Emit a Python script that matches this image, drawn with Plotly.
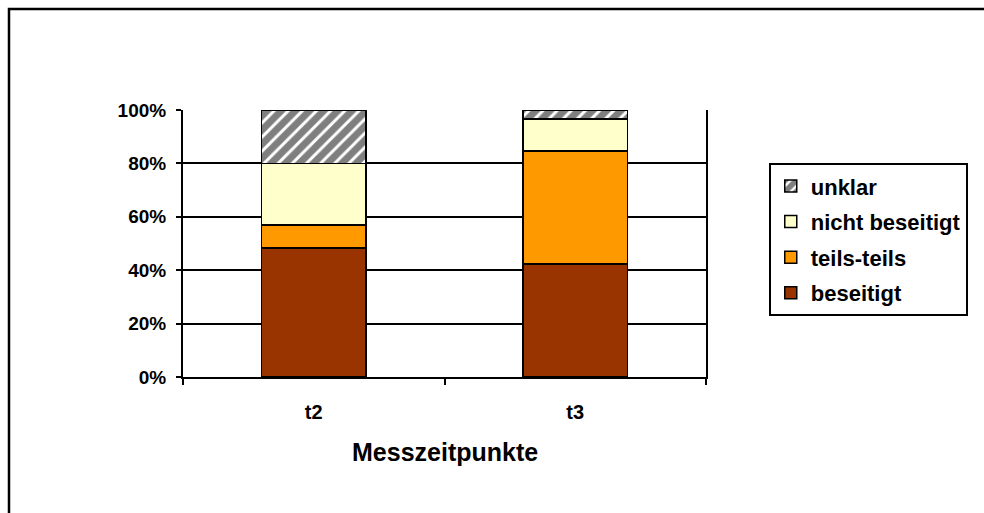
import plotly.graph_objects as go

categories = ["t2", "t3"]
series_names = ["beseitigt", "teils-teils", "nicht beseitigt", "unklar"]
beseitigt = [48.4, 42.3]
teils_teils = [8.5, 42.3]
nicht_beseitigt = [23.0, 12.0]
unklar = [20.1, 3.4]
y_ticks = [0, 20, 40, 60, 80, 100]
y_tick_labels = ["0%", "20%", "40%", "60%", "80%", "100%"]

FONT = "Liberation Sans, Arial, sans-serif"

fig = go.Figure()
values = [beseitigt, teils_teils, nicht_beseitigt, unklar]
colors = ["#993300", "#FF9900", "#FFFFCC", "#FFFFFF"]
n = len(series_names)
for i, (name, vals, col) in enumerate(zip(series_names, values, colors)):
    marker = dict(color=col, line=dict(color="black", width=1.5))
    if name == "unklar":
        marker["pattern"] = dict(shape="/", fgcolor="black", bgcolor="white",
                                 size=10, solidity=0.7, fillmode="overlay")
    fig.add_trace(go.Bar(x=categories, y=vals, name=name, marker=marker,
                         legendgroup=name, legendrank=n - i, width=0.4))

fig.update_layout(
    barmode="stack",
    width=984, height=513,
    margin=dict(l=183, r=278, t=110, b=136),
    paper_bgcolor="white", plot_bgcolor="white",
    font=dict(family=FONT, color="black"),
    showlegend=True,
    legend=dict(
        traceorder="grouped",
        x=1.12, y=0.801, xanchor="left", yanchor="top",
        bordercolor="black", borderwidth=2,
        font=dict(family=FONT, size=22, color="black", weight="bold"),
        tracegroupgap=4,
        itemwidth=30,
    ),
    xaxis=dict(
        showline=True, linecolor="black", linewidth=2,
        ticks="outside", tickson="boundaries", ticklen=6, tickwidth=2, tickcolor="black",
        tickfont=dict(family=FONT, size=20, weight="bold"),
        ticklabelstandoff=16,
        showgrid=False,
    ),
    yaxis=dict(
        range=[0, 100],
        tickvals=y_ticks, ticktext=y_tick_labels,
        showline=True, linecolor="black", linewidth=2, mirror=True,
        ticks="outside", ticklen=5, tickwidth=2, tickcolor="black",
        tickfont=dict(family=FONT, size=19, weight="bold"),
        ticklabelstandoff=6,
        showgrid=True, gridcolor="black", gridwidth=1.5,
        zeroline=False,
    ),
    annotations=[dict(
        text="Messzeitpunkte", xref="paper", yref="paper",
        x=0.5, y=-0.28, xanchor="center", yanchor="middle", showarrow=False,
        font=dict(family=FONT, size=25, weight="bold", color="black"),
    )],
    shapes=[dict(
        type="rect", xref="paper", yref="paper",
        x0=-0.3327, x1=1.6, y0=-0.6, y1=1.378,
        line=dict(color="black", width=2.5), fillcolor="rgba(0,0,0,0)", layer="above",
    )],
)

fig.write_html("out.html",
               config={"displayModeBar": False},
               post_script="document.body.style.margin='0';document.body.style.padding='0';document.body.style.overflow='hidden';")
